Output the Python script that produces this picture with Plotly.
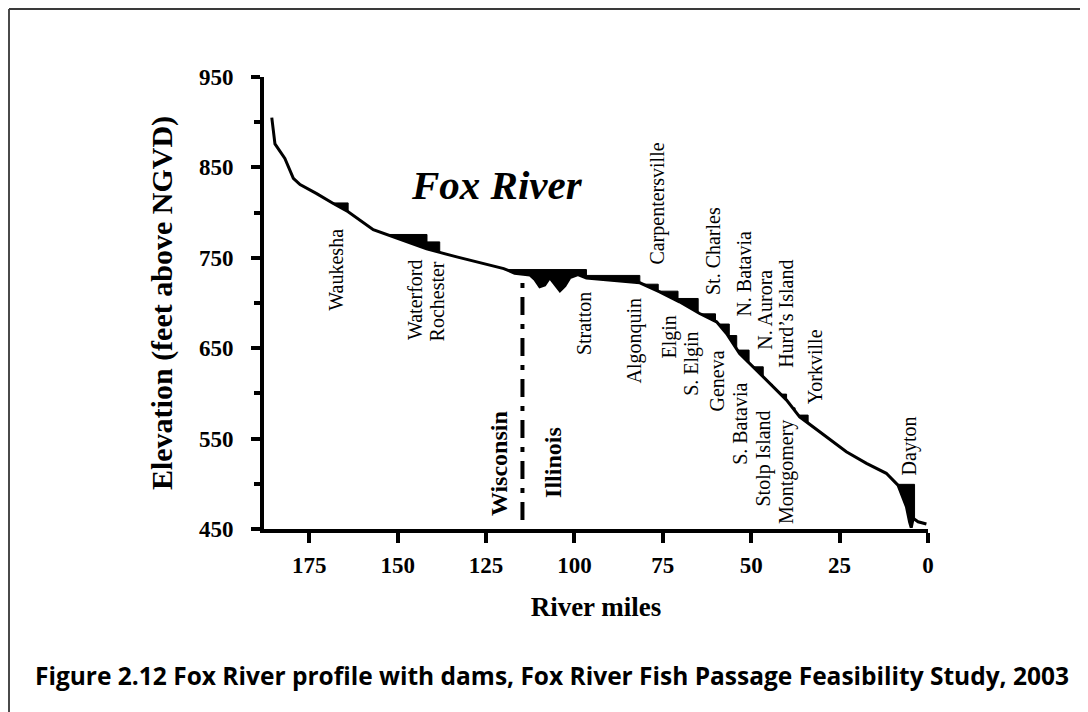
import numpy as np
import plotly.graph_objects as go

# ---------------- data ----------------
# river profile (river mile, elevation ft above NGVD), upstream -> downstream
profile_mile = [185.6, 184.7, 181.9, 179.5, 177.6, 172.9, 168.2, 164.0, 156.9, 151.3,
                141.8, 138.1, 133.3, 120.0, 116.9, 112.6, 111.2, 109.8, 108.4, 107.0,
                105.6, 104.1, 102.7, 101.3, 99.0, 96.6, 81.5, 75.9, 70.3, 64.6,
                59.8, 57.0, 53.3, 47.6, 40.0, 36.3, 28.7, 23.1, 17.4, 11.8,
                8.5, 6.1, 5.2, 4.75, 4.2, 2.8, 0.45]
profile_elev = [905, 876, 860, 838, 831, 821, 810, 801, 781, 773,
                760, 756, 751, 738, 733, 731, 726, 718, 720, 728,
                721, 713.5, 719, 728, 731.5, 727.5, 722.3, 712.3, 701.3, 688.4,
                679.2, 666.3, 644.2, 622.1, 592.6, 574.1, 552.0, 535.5, 522.6, 511.6,
                498.6, 474.7, 457.7, 451.5, 461.8, 458.0, 455.5]

# dams: name, river mile, pool elevation
dam_names = ["Waukesha", "Waterford", "Rochester", "Stratton", "Algonquin",
             "Carpentersville", "Elgin", "S. Elgin", "St. Charles", "Geneva",
             "N. Batavia", "S. Batavia", "N. Aurora", "Stolp Island",
             "Hurd\u2019s Island", "Montgomery", "Yorkville", "Dayton"]
dam_mile = [164.0, 141.7, 138.1, 96.6, 81.5,
            76.3, 70.7, 65.0, 60.1, 56.2,
            54.1, 50.6, 46.6, 44.0,
            40.0, 37.6, 33.9, 3.8]
dam_pool = [810.7, 775.8, 767.6, 737.0, 730.5,
            720.8, 713.1, 705.0, 688.0, 676.7,
            664.0, 647.9, 629.4, 610.0,
            599.2, 584.0, 576.0, 499.4]

state_border_mile = 114.7
state_border_elev = [460, 729]

x_ticks = [175, 150, 125, 100, 75, 50, 25, 0]
y_ticks = [450, 550, 650, 750, 850, 950]
y_minor = [500, 600, 700, 800, 900]

# label placement (layout only): text, x (mile), y (elev), bold
label_layout = [
    ("Waukesha", 167.3, 737.4, False),
    ("Waterford", 145.1, 704.3, False),
    ("Rochester", 138.8, 702.0, False),
    ("Stratton", 97.1, 677.4, False),
    ("Algonquin", 82.9, 658.4, False),
    ("Carpentersville", 76.4, 809.8, False),
    ("Elgin", 73.0, 662.8, False),
    ("S. Elgin", 66.9, 633.2, False),
    ("St. Charles", 60.8, 757.5, False),
    ("Geneva", 59.8, 613.8, False),
    ("N. Batavia", 52.3, 732.6, False),
    ("N. Aurora", 46.2, 692.1, False),
    ("Hurd\u2019s Island", 40.0, 687.5, False),
    ("S. Batavia", 53.0, 565.9, False),
    ("Stolp Island", 46.6, 528.2, False),
    ("Montgomery", 40.0, 512.5, False),
    ("Yorkville", 32.0, 630.0, False),
    ("Dayton", 5.2, 542.0, False),
    ("Wisconsin", 121.3, 521.9, True),
    ("Illinois", 106.1, 524.0, True),
]

# ---------------- helpers ----------------
pm = np.array(profile_mile, dtype=float)
pe = np.array(profile_elev, dtype=float)


def elev_at(m):
    return float(np.interp(m, pm[::-1], pe[::-1]))


def dam_polygon(m, pool):
    xs = [m, m]
    ys = [pool, elev_at(m)]
    prev_m, prev_e = m, elev_at(m)
    ups = sorted([(mi, ei) for mi, ei in zip(pm, pe) if mi > m])
    for mi, ei in ups:
        if ei >= pool:
            t = (pool - prev_e) / (ei - prev_e)
            xs.append(prev_m + t * (mi - prev_m))
            ys.append(pool)
            break
        xs.append(mi)
        ys.append(ei)
        prev_m, prev_e = mi, ei
    xs.append(m)
    ys.append(pool)
    return xs, ys


SERIF = "Liberation Serif"

fig = go.Figure()

for name, m, pool in zip(dam_names, dam_mile, dam_pool):
    xs, ys = dam_polygon(m, pool)
    fig.add_trace(go.Scatter(x=xs, y=ys, mode="lines", fill="toself",
                             fillcolor="black", line=dict(color="black", width=1),
                             name=name, showlegend=False, hoverinfo="name"))

fig.add_trace(go.Scatter(x=profile_mile, y=profile_elev, mode="lines",
                         line=dict(color="black", width=3),
                         showlegend=False, name="Fox River"))

fig.add_trace(go.Scatter(x=[state_border_mile, state_border_mile], y=state_border_elev,
                         mode="lines", line=dict(color="black", width=4,
                                                 dash="18px,9px,5px,9px"),
                         showlegend=False, name="State line"))

annotations = []
for text, x, y, bold in label_layout:
    annotations.append(dict(
        x=x, y=y, xref="x", yref="y", text=text, showarrow=False,
        textangle=-90, xanchor="center", yanchor="middle",
        font=dict(family=SERIF, size=24 if bold else 20, color="black",
                  weight="bold" if bold else "normal")))

annotations.append(dict(
    x=122.0, y=830, xref="x", yref="y", text="Fox River", showarrow=False,
    xanchor="center", yanchor="middle",
    font=dict(family=SERIF, size=41, color="black", weight="bold", style="italic")))

# figure is placed 8 px from the page corner by the page's body margin
W, H = 1080, 704
ML, MR, MT, MB = 256, 160, 69, 183
PW, PH = W - ML - MR, H - MT - MB
OFF = 8


def px_x(sx):
    return (sx - OFF - ML) / PW


def px_y(sy):
    return (H - MB - (sy - OFF)) / PH


annotations.append(dict(
    x=px_x(551.5), y=px_y(675), xref="paper", yref="paper",
    text="Figure 2.12 Fox River profile with dams, Fox River Fish Passage Feasibility Study, 2003",
    showarrow=False, xanchor="center", yanchor="middle",
    font=dict(family="Open Sans", size=24.5, color="black", weight="bold")))

shapes = [
    dict(type="line", xref="paper", yref="paper", x0=px_x(9), x1=px_x(9),
         y0=px_y(H + 20), y1=px_y(9), line=dict(color="#4a4a4a", width=2)),
    dict(type="line", xref="paper", yref="paper", x0=px_x(9), x1=px_x(W + 20),
         y0=px_y(9), y1=px_y(9), line=dict(color="#3a3a3a", width=2)),
]

tickfont = dict(family=SERIF, size=23, color="black", weight="bold")

fig.update_layout(
    width=W, height=H,
    margin=dict(l=ML, r=MR, t=MT, b=MB, pad=0),
    paper_bgcolor="white", plot_bgcolor="white",
    showlegend=False,
    annotations=annotations,
    shapes=shapes,
    xaxis=dict(range=[187.8, 0], tickvals=x_ticks, ticktext=[str(v) for v in x_ticks],
               ticks="outside", ticklen=10, tickwidth=4, tickcolor="black",
               showline=True, linewidth=4, linecolor="black",
               showgrid=False, zeroline=False, tickfont=tickfont,
               ticklabelstandoff=2,
               title=dict(text="River miles", standoff=22,
                          font=dict(family=SERIF, size=27, color="black", weight="bold"))),
    yaxis=dict(range=[450, 950], tickvals=y_ticks, ticktext=[str(v) for v in y_ticks],
               ticks="outside", ticklen=9, tickwidth=4, tickcolor="black",
               showline=True, linewidth=4, linecolor="black",
               showgrid=False, zeroline=False, tickfont=tickfont,
               ticklabelstandoff=13,
               minor=dict(tickvals=y_minor, ticks="outside", ticklen=6,
                          tickwidth=4, tickcolor="black", showgrid=False),
               title=dict(text="Elevation (feet above NGVD)", standoff=18,
                          font=dict(family=SERIF, size=30, color="black", weight="bold"))),
)

fig.write_html("out.html")
